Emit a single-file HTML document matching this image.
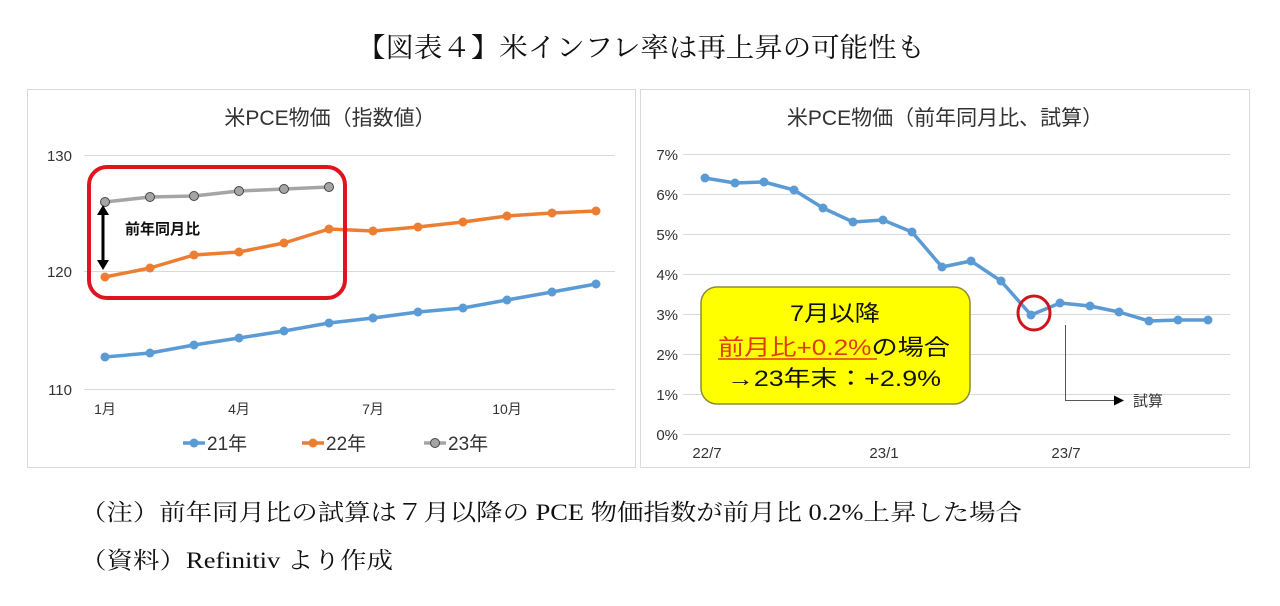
<!DOCTYPE html>
<html><head><meta charset="utf-8"><style>
body{margin:0;background:#fff;}
svg{display:block;}
.s{font-family:"Liberation Serif","Noto Serif CJK SC",serif;}
.g{font-family:"Liberation Sans","Noto Sans CJK JP",sans-serif;}
</style></head><body>
<svg width="1280" height="606" viewBox="0 0 1280 606" xmlns="http://www.w3.org/2000/svg">
<rect width="1280" height="606" fill="#fff"/>
<text class="s" x="357" y="57" font-size="27" textLength="568" lengthAdjust="spacingAndGlyphs" fill="#111">【図表４】米インフレ率は再上昇の可能性も</text>
<!-- left panel -->
<rect x="27.5" y="89.5" width="608" height="378" fill="#fff" stroke="#d9d9d9"/>
<text class="g" x="330" y="125" font-size="21" text-anchor="middle" fill="#333">米PCE物価（指数値）</text>
<g stroke="#d9d9d9" stroke-width="1">
<line x1="84" y1="155.5" x2="615" y2="155.5"/><line x1="84" y1="271.5" x2="615" y2="271.5"/><line x1="84" y1="389.5" x2="615" y2="389.5"/>
</g>
<g class="g" font-size="15" fill="#333" text-anchor="end">
<text x="72" y="161">130</text><text x="72" y="277">120</text><text x="72" y="395">110</text>
</g>
<g class="g" font-size="14" fill="#333" text-anchor="middle">
<text x="105" y="414">1月</text><text x="239" y="414">4月</text><text x="373" y="414">7月</text><text x="507" y="414">10月</text>
</g>
<g fill="none" stroke-width="3.5" stroke-linejoin="round">
<polyline stroke="#5b9bd5" points="105,357 150,353 194,345 239,338 284,331 329,323 373,318 418,312 463,308 507,300 552,292 596,284"/>
<polyline stroke="#ed7d31" points="105,277 150,268 194,255 239,252 284,243 329,229 373,231 418,227 463,222 507,216 552,213 596,211"/>
<polyline stroke="#a5a5a5" points="105,202 150,197 194,196 239,191 284,189 329,187"/>
</g>
<g fill="#5b9bd5"><circle cx="105" cy="357" r="4.5"/><circle cx="150" cy="353" r="4.5"/><circle cx="194" cy="345" r="4.5"/><circle cx="239" cy="338" r="4.5"/><circle cx="284" cy="331" r="4.5"/><circle cx="329" cy="323" r="4.5"/><circle cx="373" cy="318" r="4.5"/><circle cx="418" cy="312" r="4.5"/><circle cx="463" cy="308" r="4.5"/><circle cx="507" cy="300" r="4.5"/><circle cx="552" cy="292" r="4.5"/><circle cx="596" cy="284" r="4.5"/></g>
<g fill="#ed7d31"><circle cx="105" cy="277" r="4.5"/><circle cx="150" cy="268" r="4.5"/><circle cx="194" cy="255" r="4.5"/><circle cx="239" cy="252" r="4.5"/><circle cx="284" cy="243" r="4.5"/><circle cx="329" cy="229" r="4.5"/><circle cx="373" cy="231" r="4.5"/><circle cx="418" cy="227" r="4.5"/><circle cx="463" cy="222" r="4.5"/><circle cx="507" cy="216" r="4.5"/><circle cx="552" cy="213" r="4.5"/><circle cx="596" cy="211" r="4.5"/></g>
<g fill="#a5a5a5" stroke="#444" stroke-width="1"><circle cx="105" cy="202" r="4.5"/><circle cx="150" cy="197" r="4.5"/><circle cx="194" cy="196" r="4.5"/><circle cx="239" cy="191" r="4.5"/><circle cx="284" cy="189" r="4.5"/><circle cx="329" cy="187" r="4.5"/></g>
<rect x="89" y="167" width="256" height="131" rx="18" fill="none" stroke="#e0141e" stroke-width="4"/>
<line x1="103" y1="213" x2="103" y2="262" stroke="#000" stroke-width="3"/>
<polygon points="103,205 97,215 109,215" fill="#000"/><polygon points="103,270 97,260 109,260" fill="#000"/>
<text class="g" x="125" y="234" font-size="15" font-weight="bold" fill="#111">前年同月比</text>
<g class="g" font-size="19" fill="#333">
<line x1="183" y1="443" x2="205" y2="443" stroke="#5b9bd5" stroke-width="3.5"/><circle cx="194" cy="443" r="4.5" fill="#5b9bd5"/><text x="207" y="450">21年</text>
<line x1="302" y1="443" x2="324" y2="443" stroke="#ed7d31" stroke-width="3.5"/><circle cx="313" cy="443" r="4.5" fill="#ed7d31"/><text x="326" y="450">22年</text>
<line x1="424" y1="443" x2="446" y2="443" stroke="#a5a5a5" stroke-width="3.5"/><circle cx="435" cy="443" r="4.5" fill="#a5a5a5" stroke="#444"/><text x="448" y="450">23年</text>
</g>
<!-- right panel -->
<rect x="640.5" y="89.5" width="609" height="378" fill="#fff" stroke="#d9d9d9"/>
<text class="g" x="945" y="125" font-size="21" text-anchor="middle" fill="#333">米PCE物価（前年同月比、試算）</text>
<g stroke="#d9d9d9" stroke-width="1">
<line x1="683" y1="154.5" x2="1230" y2="154.5"/><line x1="683" y1="194.5" x2="1230" y2="194.5"/><line x1="683" y1="234.5" x2="1230" y2="234.5"/><line x1="683" y1="274.5" x2="1230" y2="274.5"/><line x1="683" y1="314.5" x2="1230" y2="314.5"/><line x1="683" y1="354.5" x2="1230" y2="354.5"/><line x1="683" y1="394.5" x2="1230" y2="394.5"/><line x1="683" y1="434.5" x2="1230" y2="434.5"/>
</g>
<g class="g" font-size="15" fill="#333" text-anchor="end">
<text x="678" y="160">7%</text><text x="678" y="200">6%</text><text x="678" y="240">5%</text><text x="678" y="280">4%</text><text x="678" y="320">3%</text><text x="678" y="360">2%</text><text x="678" y="400">1%</text><text x="678" y="440">0%</text>
</g>
<g class="g" font-size="15" fill="#333" text-anchor="middle">
<text x="707" y="458">22/7</text><text x="884" y="458">23/1</text><text x="1066" y="458">23/7</text>
</g>
<polyline fill="none" stroke="#5b9bd5" stroke-width="3.5" stroke-linejoin="round" points="705,178 735,183 764,182 794,190 823,208 853,222 883,220 912,232 942,267 971,261 1001,281 1031,315 1060,303 1090,306 1119,312 1149,321 1178,320 1208,320"/>
<g fill="#5b9bd5"><circle cx="705" cy="178" r="4.5"/><circle cx="735" cy="183" r="4.5"/><circle cx="764" cy="182" r="4.5"/><circle cx="794" cy="190" r="4.5"/><circle cx="823" cy="208" r="4.5"/><circle cx="853" cy="222" r="4.5"/><circle cx="883" cy="220" r="4.5"/><circle cx="912" cy="232" r="4.5"/><circle cx="942" cy="267" r="4.5"/><circle cx="971" cy="261" r="4.5"/><circle cx="1001" cy="281" r="4.5"/><circle cx="1031" cy="315" r="4.5"/><circle cx="1060" cy="303" r="4.5"/><circle cx="1090" cy="306" r="4.5"/><circle cx="1119" cy="312" r="4.5"/><circle cx="1149" cy="321" r="4.5"/><circle cx="1178" cy="320" r="4.5"/><circle cx="1208" cy="320" r="4.5"/></g>
<ellipse cx="1034" cy="313" rx="16" ry="17" fill="none" stroke="#d0141e" stroke-width="3"/>
<line x1="1065.5" y1="325" x2="1065.5" y2="401" stroke="#555" stroke-width="1"/>
<line x1="1065" y1="400.5" x2="1115" y2="400.5" stroke="#555" stroke-width="1"/>
<polygon points="1124,400.5 1114,395.5 1114,405.5" fill="#000"/>
<text class="g" x="1133" y="406" font-size="15" fill="#333">試算</text>
<rect x="701" y="287" width="269" height="117" rx="16" fill="#ffff00" stroke="#8c8c3c" stroke-width="1.5"/>
<g class="g" font-size="22" fill="#111">
<text x="790" y="321" textLength="90" lengthAdjust="spacingAndGlyphs">7月以降</text>
<text x="718" y="355" textLength="232" lengthAdjust="spacingAndGlyphs"><tspan fill="#e03a10">前月比+0.2%</tspan>の場合</text>
<text x="727" y="386" textLength="214" lengthAdjust="spacingAndGlyphs">→23年末：+2.9%</text>
</g>
<line x1="718" y1="359" x2="877" y2="359" stroke="#e03a10" stroke-width="1.5"/>
<g class="s" font-size="23" fill="#111">
<text x="80" y="520" textLength="942" lengthAdjust="spacingAndGlyphs">（注）前年同月比の試算は７月以降の PCE 物価指数が前月比 0.2%上昇した場合</text>
<text x="80" y="568" textLength="313" lengthAdjust="spacingAndGlyphs">（資料）Refinitiv より作成</text>
</g>
</svg>
</body></html>
